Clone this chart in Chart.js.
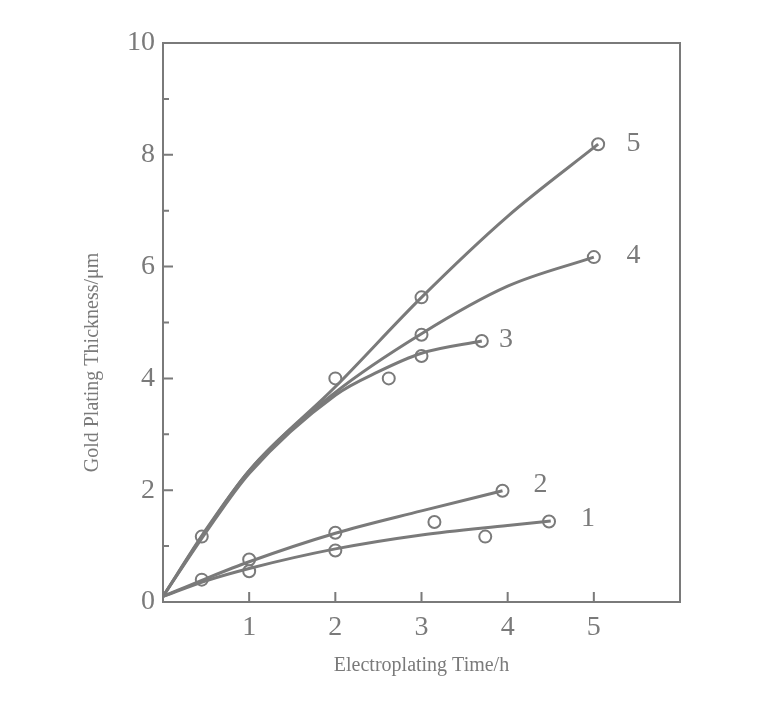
<!DOCTYPE html>
<html><head><meta charset="utf-8">
<script src="https://cdn.jsdelivr.net/npm/chart.js@4"></script>
<style>html,body{margin:0;background:#fff}#w{width:768px;height:708px}</style>
</head><body><div id="w"><canvas id="c"></canvas></div>
<script>
const seriesNames = ["1","2","3","4","5"];
// measured points
const pts1 = [[1,0.55],[2,0.92],[3.15,1.43],[3.74,1.17],[4.48,1.44]];
const pts2 = [[0.45,0.4],[1,0.76],[2,1.24],[3.94,1.99]];
const pts3 = [[2.62,4.0],[3,4.4],[3.7,4.67]];
const pts4 = [[3,4.78],[5,6.17]];
const pts5 = [[0.45,1.17],[2,4.0],[3,5.45],[5.05,8.19]];
// fitted curves
const cur1 = [[0,0.1],[0.5,0.38],[1,0.6],[2,0.95],[3,1.2],[4,1.37],[4.5,1.45]];
const cur2 = [[0,0.1],[0.5,0.42],[1,0.72],[2,1.23],[3,1.63],[3.94,1.99]];
const cur3 = [[0,0.1],[0.5,1.25],[1,2.3],[2,3.7],[2.5,4.12],[3,4.45],[3.7,4.67]];
const cur4 = [[0,0.1],[0.5,1.28],[1,2.35],[2,3.75],[3,4.8],[4,5.65],[5,6.17]];
const cur5 = [[0,0.1],[0.5,1.3],[1,2.35],[2,3.85],[3,5.45],[4,6.9],[5.05,8.19]];
const labelPos = [[4.85,1.5],[4.3,2.1],[3.9,4.7],[5.38,6.2],[5.38,8.2]];
const xTicks = [1,2,3,4,5];
const yTicks = [0,2,4,6,8,10];

const C = '#7a7a7a';
const toXY = a => a.map(p=>({x:p[0],y:p[1]}));
const curves=[cur1,cur2,cur3,cur4,cur5], pts=[pts1,pts2,pts3,pts4,pts5];
const datasets=[];
curves.forEach(c=>datasets.push({data:toXY(c),showLine:true,borderColor:C,borderWidth:3,pointRadius:0,tension:0.4,cubicInterpolationMode:'monotone'}));
pts.forEach(p=>datasets.push({data:toXY(p),showLine:false,pointRadius:6,pointBorderWidth:2,pointBorderColor:C,pointBackgroundColor:'#fff'}));

const serif = '"Liberation Serif", "DejaVu Serif", serif';
const deco = {id:'deco',afterDraw(ch){
  const x=ch.scales.x,y=ch.scales.y,ctx=ch.ctx,a=ch.chartArea;
  ctx.save();ctx.strokeStyle=C;ctx.lineWidth=2;
  ctx.strokeRect(a.left,a.top,a.right-a.left,a.bottom-a.top);
  ctx.beginPath();
  for(let v=1;v<10;v++){const py=y.getPixelForValue(v);const L=v%2?6:10;ctx.moveTo(a.left,py);ctx.lineTo(a.left+L,py);}
  xTicks.forEach(v=>{const px=x.getPixelForValue(v);ctx.moveTo(px,a.bottom);ctx.lineTo(px,a.bottom-10);});
  ctx.stroke();
  ctx.fillStyle=C;ctx.font='28px '+serif;ctx.textAlign='right';ctx.textBaseline='middle';
  yTicks.forEach(v=>ctx.fillText(String(v),a.left-8,y.getPixelForValue(v)));
  ctx.textAlign='center';ctx.textBaseline='top';
  xTicks.forEach(v=>ctx.fillText(String(v),x.getPixelForValue(v),a.bottom+12));
  ctx.textAlign='left';ctx.textBaseline='middle';
  labelPos.forEach((p,i)=>ctx.fillText(seriesNames[i],x.getPixelForValue(p[0]),y.getPixelForValue(p[1])));
  ctx.font='20px '+serif;ctx.textAlign='center';
  ctx.fillText('Electroplating Time/h',(a.left+a.right)/2,666);
  ctx.translate(93,(a.top+a.bottom)/2+40);ctx.rotate(-Math.PI/2);
  ctx.fillText('Gold Plating Thickness/μm',0,0);
  ctx.restore();
}};
new Chart(document.getElementById('c'),{type:'scatter',data:{datasets},plugins:[deco],
options:{responsive:true,maintainAspectRatio:false,animation:false,
 layout:{padding:{top:43,right:88,left:0,bottom:0}},
 plugins:{legend:{display:false},tooltip:{enabled:false}},
 scales:{
  x:{min:0,max:6,display:true,grid:{display:false},border:{display:false},ticks:{display:false},afterFit:s=>{s.height=106;}},
  y:{min:0,max:10,display:true,grid:{display:false},border:{display:false},ticks:{display:false},afterFit:s=>{s.width=163;}}
 }}});
</script></body></html>
